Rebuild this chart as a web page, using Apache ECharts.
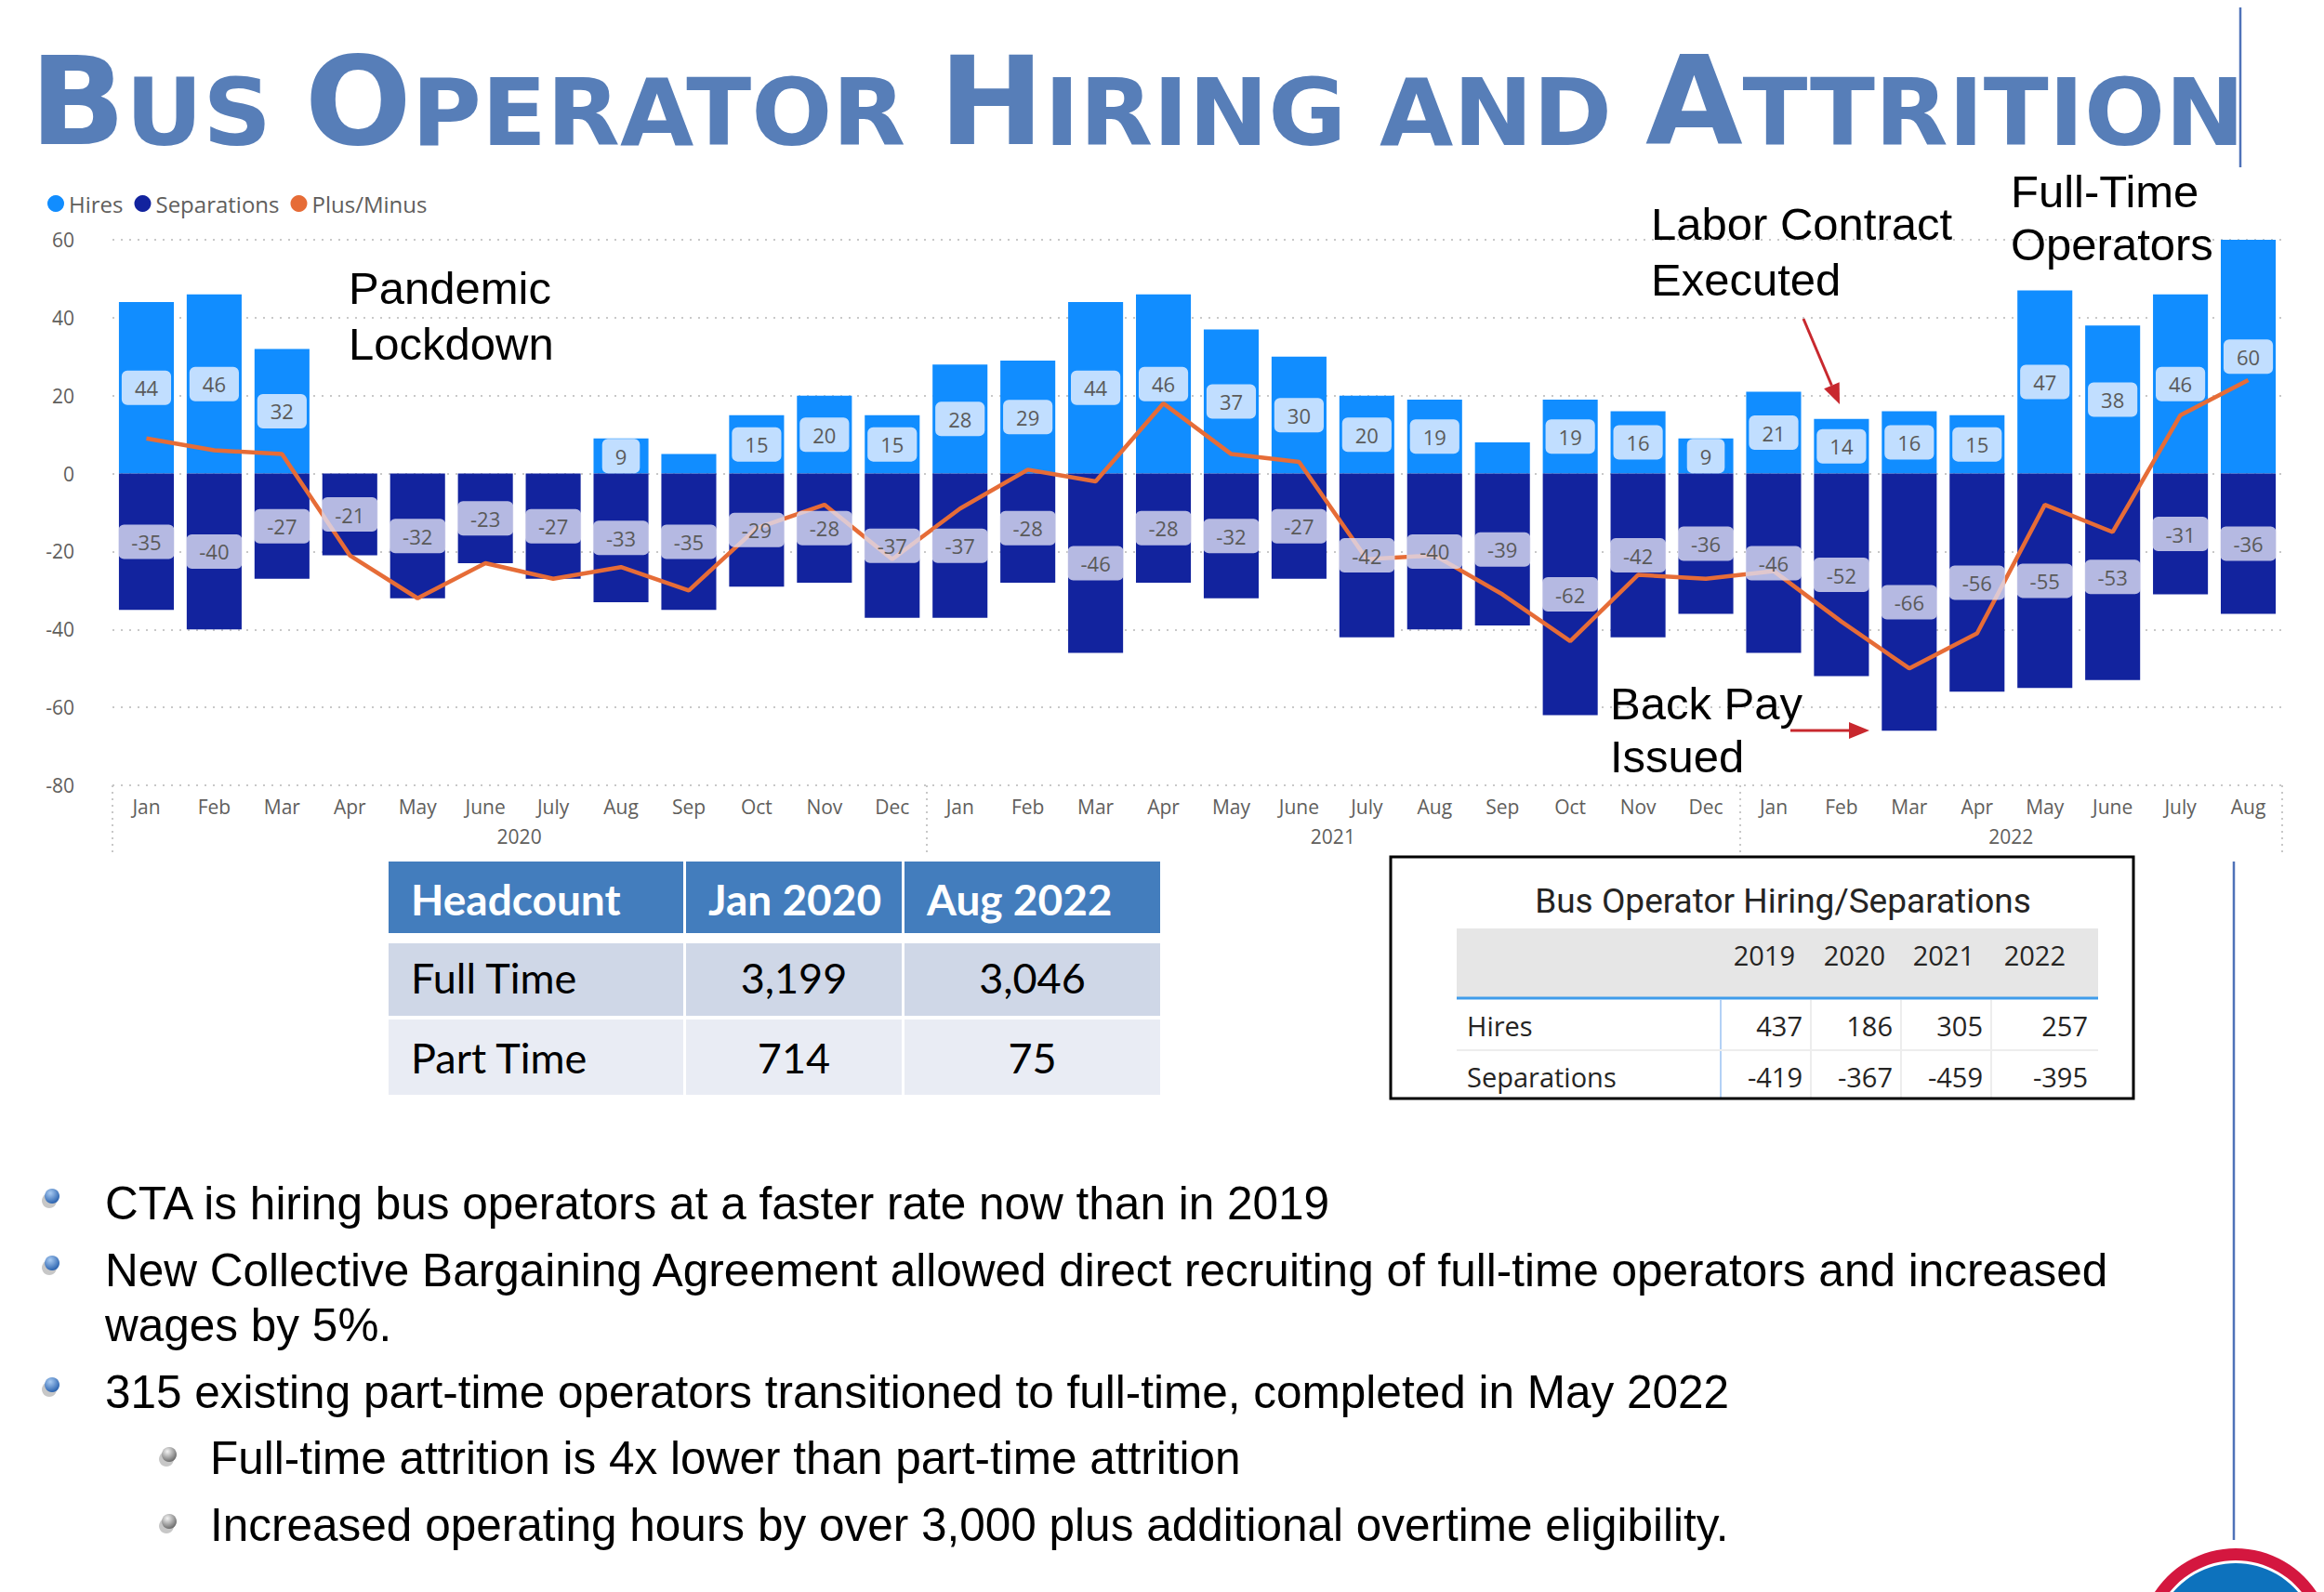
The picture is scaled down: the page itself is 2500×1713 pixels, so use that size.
<!DOCTYPE html>
<html>
<head>
<meta charset="utf-8">
<title>Bus Operator Hiring and Attrition</title>
<script src="https://cdn.jsdelivr.net/npm/echarts@6/dist/echarts.min.js"></script>
<style>
    html, body { margin: 0; padding: 0; background: #fff; }
    #main { width: 2500px; height: 1713px; }
</style>
</head>
<body>
<div id="main"></div>
<script>
    // monthly data, Jan 2020 .. Aug 2022
    var months = ['Jan', 'Feb', 'Mar', 'Apr', 'May', 'June', 'July', 'Aug', 'Sep', 'Oct', 'Nov', 'Dec',
                  'Jan', 'Feb', 'Mar', 'Apr', 'May', 'June', 'July', 'Aug', 'Sep', 'Oct', 'Nov', 'Dec',
                  'Jan', 'Feb', 'Mar', 'Apr', 'May', 'June', 'July', 'Aug'];
    var years = ['2020', '2021', '2022'];
    var yearFirstIdx = [0, 12, 24];
    var yearLastIdx = [11, 23, 31];
    var hires = [44, 46, 32, null, null, null, null, 9, 5, 15, 20, 15,
                 28, 29, 44, 46, 37, 30, 20, 19, 8, 19, 16, 9,
                 21, 14, 16, 15, 47, 38, 46, 60];
    var separations = [-35, -40, -27, -21, -32, -23, -27, -33, -35, -29, -28, -37,
                       -37, -28, -46, -28, -32, -27, -42, -40, -39, -62, -42, -36,
                       -46, -52, -66, -56, -55, -53, -31, -36];
    var plusMinus = [9, 6, 5, -21, -32, -23, -27, -24, -30, -14, -8, -22,
                     -9, 1, -2, 18, 5, 3, -22, -21, -31, -43, -26, -27,
                     -25, -38, -50, -41, -8, -15, 15, 24];
    var yTicks = [-80, -60, -40, -20, 0, 20, 40, 60];

    // headcount table
    var hcHeader = ['Headcount', 'Jan 2020', 'Aug 2022'];
    var hcRows = ['Full Time', 'Part Time'];
    var hcJan2020 = [3199, 714];
    var hcAug2022 = [3046, 75];

    // yearly hiring / separations table
    var tblTitle = 'Bus Operator Hiring/Separations';
    var tblYears = ['2019', '2020', '2021', '2022'];
    var tblHires = [437, 186, 305, 257];
    var tblSeps = [-419, -367, -459, -395];

    var bulletText = [
        'CTA is hiring bus operators at a faster rate now than in 2019',
        'New Collective Bargaining Agreement allowed direct recruiting of full-time operators and increased',
        'wages by 5%.',
        '315 existing part-time operators transitioned to full-time, completed in May 2022',
        'Full-time attrition is 4x lower than part-time attrition',
        'Increased operating hours by over 3,000 plus additional overtime eligibility.'
    ];

    var UI = '"Open Sans", "Noto Sans", sans-serif';
    var GRAY = '#605E5C';
    var MID = {'Liberation Sans': 0.347, 'Lato': 0.387, 'Open Sans': 0.388, 'Roboto': 0.342, 'DejaVu Sans': 0.346};

    var chart = echarts.init(document.getElementById('main'), null, {renderer: 'svg'});

    function lbl(bg) {
        return {
            show: true,
            position: 'inside',
            fontSize: 22,
            fontFamily: UI,
            color: '#5A5A5A',
            backgroundColor: bg,
            borderRadius: 6,
            padding: [8, 14, 7, 14]
        };
    }

    // hide labels that do not fit, like the original
    var hiresLabelData = hires.map(function (v) {
        return v == null ? null : {value: v, label: {show: v >= 9}};
    });

    var option = {
        animation: false,
        legend: {
            data: ['Hires', 'Separations', 'Plus/Minus'],
            left: 46,
            top: 202,
            icon: 'circle',
            itemWidth: 18,
            itemHeight: 18,
            itemGap: 12,
            textStyle: {fontSize: 24, color: GRAY, fontFamily: UI}
        },
        grid: {left: 121, right: 45, top: 258, bottom: 868},
        xAxis: {
            type: 'category',
            data: months,
            axisLine: {show: false, onZero: false},
            axisTick: {
                show: true,
                length: 74,
                interval: function (i) { return yearFirstIdx.indexOf(i) >= 0; },
                lineStyle: {color: '#C8C8C8', type: [2, 5], width: 2}
            },
            axisLabel: {interval: 0, margin: 12, fontSize: 21, color: GRAY, fontFamily: UI},
            splitLine: {show: false}
        },
        yAxis: {
            type: 'value',
            min: yTicks[0],
            max: yTicks[yTicks.length - 1],
            interval: 20,
            axisLine: {show: false},
            axisTick: {show: false},
            axisLabel: {margin: 41, fontSize: 21, color: GRAY, fontFamily: UI},
            splitLine: {lineStyle: {color: '#C8C8C8', type: [2, 7], width: 2}}
        },
        series: [
            {
                name: 'Hires', type: 'bar', stack: 'a', data: hires,
                barCategoryGap: '19%', barGap: '-100%',
                itemStyle: {color: '#118DFF'}, z: 2
            },
            {
                name: 'Separations', type: 'bar', stack: 'a', data: separations,
                itemStyle: {color: '#12239E'}, z: 2
            },
            {
                name: 'Plus/Minus', type: 'line', data: plusMinus, symbol: 'none',
                lineStyle: {color: '#E66C37', width: 4.5},
                itemStyle: {color: '#E66C37'}, z: 3
            },
            {
                name: 'hiresLabels', type: 'bar', stack: 'b', data: hiresLabelData, silent: true,
                itemStyle: {color: 'rgba(0,0,0,0)'}, label: lbl('rgba(232,240,255,0.82)'), z: 4
            },
            {
                name: 'sepLabels', type: 'bar', stack: 'b', data: separations, silent: true,
                itemStyle: {color: 'rgba(0,0,0,0)'}, label: lbl('rgba(222,223,243,0.8)'), z: 4
            }
        ]
    };
    chart.setOption(option);

    // ---------- slide graphics ----------
    function txt(x, baseline, s, size, family, o) {
        o = o || {};
        var a = o.align || 'left';
        return {
            type: 'text', x: x, y: baseline - MID[family] * size, silent: true, z: 100,
            style: {
                text: s, fontSize: size, fontFamily: '"' + family + '"',
                fontWeight: o.weight || 'normal', fill: o.color || '#000',
                align: a, textAlign: a, verticalAlign: 'middle', textVerticalAlign: 'middle'
            }
        };
    }
    function rect(x, y, w, h, fill) {
        return {type: 'rect', silent: true, z: 50, shape: {x: x, y: y, width: w, height: h}, style: {fill: fill}};
    }
    function line(x1, y1, x2, y2, color, w) {
        return {type: 'line', silent: true, z: 60, shape: {x1: x1, y1: y1, x2: x2, y2: y2},
            style: {stroke: color, lineWidth: w}};
    }
    function arrow(x1, y1, x2, y2, color) {
        var dx = x2 - x1, dy = y2 - y1, len = Math.sqrt(dx * dx + dy * dy);
        var ux = dx / len, uy = dy / len, hl = 22, hw = 9;
        var bx = x2 - ux * hl, by = y2 - uy * hl;
        return [
            line(x1, y1, bx, by, color, 3),
            {type: 'polygon', silent: true, z: 60,
                shape: {points: [[x2, y2], [bx - uy * hw, by + ux * hw], [bx + uy * hw, by - ux * hw]]},
                style: {fill: color}}
        ];
    }
    function ball(cx, cy, r, light, dark) {
        return [
            {type: 'circle', silent: true, z: 60, shape: {cx: cx - 3, cy: cy + 5, r: r},
                style: {fill: 'rgba(0,0,0,0.22)'}},
            {type: 'circle', silent: true, z: 61, shape: {cx: cx, cy: cy, r: r},
                style: {fill: {type: 'radial', x: 0.38, y: 0.3, r: 0.8,
                    colorStops: [{offset: 0, color: light}, {offset: 1, color: dark}]}}}
        ];
    }

    var g = [];
    var BLUE_T = '#577EB8';

    // title (small caps)
    g.push({
        type: 'text', x: 32, y: 176, scaleX: 1.025, silent: true, z: 100,
        style: {
            text: '{b|B}{s|US }{b|O}{s|PERATOR }{b|H}{s|IRING AND }{b|A}{s|TTRITION}',
            fill: BLUE_T, align: 'left', textAlign: 'left',
            verticalAlign: 'bottom', textVerticalAlign: 'bottom',
            rich: {
                b: {fontSize: 132, lineHeight: 132, fontFamily: '"DejaVu Sans"', fontWeight: 'bold',
                    fill: BLUE_T, color: BLUE_T, verticalAlign: 'bottom'},
                s: {fontSize: 100, lineHeight: 100, fontFamily: '"DejaVu Sans"', fontWeight: 'bold',
                    fill: BLUE_T, color: BLUE_T, verticalAlign: 'bottom', padding: [0, 0, 5, 0]}
            }
        }
    });

    // year labels under the month axis
    years.forEach(function (y, k) {
        var xa = chart.convertToPixel({xAxisIndex: 0}, yearFirstIdx[k]);
        var xb = chart.convertToPixel({xAxisIndex: 0}, yearLastIdx[k]);
        g.push(txt((xa + xb) / 2, 900 + MID['Open Sans'] * 21 - 0, y, 21, 'Open Sans', {align: 'center', color: GRAY}));
    });

    // annotations
    var AF = 'Liberation Sans';
    g.push(txt(375, 327, 'Pandemic', 49, AF), txt(375, 387, 'Lockdown', 49, AF));
    g.push(txt(1776, 258, 'Labor Contract', 49, AF), txt(1776, 318, 'Executed', 49, AF));
    g.push(txt(2163, 223, 'Full-Time', 49, AF), txt(2163, 280, 'Operators', 49, AF));
    g.push(txt(1732, 774, 'Back Pay', 49, AF), txt(1732, 831, 'Issued', 49, AF));
    g = g.concat(arrow(1940, 343, 1979, 435, '#C8282E'));
    g = g.concat(arrow(1926, 786, 2011, 786, '#C8282E'));

    // headcount table
    var hcColX = [[418, 735], [738, 970], [973, 1248]];
    var hcRowY = [[927, 1004], [1015, 1093], [1097, 1178]];
    var hcFill = ['#437DBD', '#CFD7E7', '#E9ECF4'];
    hcRowY.forEach(function (ry, r) {
        hcColX.forEach(function (cx) {
            g.push(rect(cx[0], ry[0], cx[1] - cx[0], ry[1] - ry[0], hcFill[r]));
        });
    });
    hcHeader.forEach(function (h, c) {
        g.push(txt(hcColX[c][0] + 24, 985, h, 46, 'Lato', {weight: 'bold', color: '#fff'}));
    });
    var hcBase = [1069, 1155];
    hcRows.forEach(function (name, r) {
        g.push(txt(442, hcBase[r], name, 45, 'Lato'));
        g.push(txt((hcColX[1][0] + hcColX[1][1]) / 2, hcBase[r], echarts.format.addCommas(hcJan2020[r]), 45, 'Lato', {align: 'center'}));
        g.push(txt((hcColX[2][0] + hcColX[2][1]) / 2, hcBase[r], echarts.format.addCommas(hcAug2022[r]), 45, 'Lato', {align: 'center'}));
    });

    // hiring / separations table box
    g.push({type: 'rect', silent: true, z: 70, shape: {x: 1496, y: 922, width: 799, height: 260},
        style: {fill: 'none', stroke: '#000', lineWidth: 3}});
    g.push(txt(1918, 982, tblTitle, 37, 'Roboto', {align: 'center', color: '#252423'}));
    g.push(rect(1567, 999, 690, 74, '#E6E6E6'));
    g.push(line(1567, 1074, 2257, 1074, '#3F9CEA', 3));
    g.push(line(1851, 1076, 1851, 1181, '#B3D1F5', 2));
    [1948, 2045, 2142].forEach(function (x) { g.push(line(x, 1076, x, 1181, '#EDEDED', 2)); });
    g.push(line(1567, 1130, 2257, 1130, '#EDEDED', 2));
    var hdrRight = [1931, 2028, 2124, 2222];
    var valRight = [1939, 2036, 2133, 2246];
    tblYears.forEach(function (y, i) {
        g.push(txt(hdrRight[i], 1039, y, 29, 'Open Sans', {align: 'right', color: '#252423'}));
        g.push(txt(valRight[i], 1115, String(tblHires[i]), 29, 'Open Sans', {align: 'right', color: '#252423'}));
        g.push(txt(valRight[i], 1170, String(tblSeps[i]), 29, 'Open Sans', {align: 'right', color: '#252423'}));
    });
    g.push(txt(1578, 1115, 'Hires', 29, 'Open Sans', {color: '#252423'}));
    g.push(txt(1578, 1170, 'Separations', 29, 'Open Sans', {color: '#252423'}));

    // bullet list
    var bBase = [1312, 1384, 1443, 1515, 1586, 1658];
    var bLevel = [0, 0, -1, 0, 1, 1];   // -1 = continuation line
    bulletText.forEach(function (s, i) {
        var lv = bLevel[i];
        var x = lv === 1 ? 226 : 113;
        g.push(txt(x, bBase[i], s, 49.5, 'Liberation Sans'));
        if (lv === 0) g = g.concat(ball(56, bBase[i] - 25, 8, '#A9CBF2', '#1A55A6'));
        if (lv === 1) g = g.concat(ball(182, bBase[i] - 21, 8, '#F4F4F4', '#5A5A5A'));
    });

    // slide decorations
    g.push(line(2410, 8, 2410, 180, '#4F72B8', 2.5));
    g.push(line(2403, 927, 2403, 1657, '#4F72B8', 2.5));
    g.push({type: 'circle', silent: true, z: 40, shape: {cx: 2405, cy: 1770, r: 104}, style: {fill: '#D4173F'}});
    g.push({type: 'circle', silent: true, z: 41, shape: {cx: 2405, cy: 1770, r: 91}, style: {fill: '#FFFFFF'}});
    g.push({type: 'circle', silent: true, z: 42, shape: {cx: 2405, cy: 1770, r: 88}, style: {fill: '#0D72BD'}});

    chart.setOption({graphic: {elements: g}});
</script>
</body>
</html>
